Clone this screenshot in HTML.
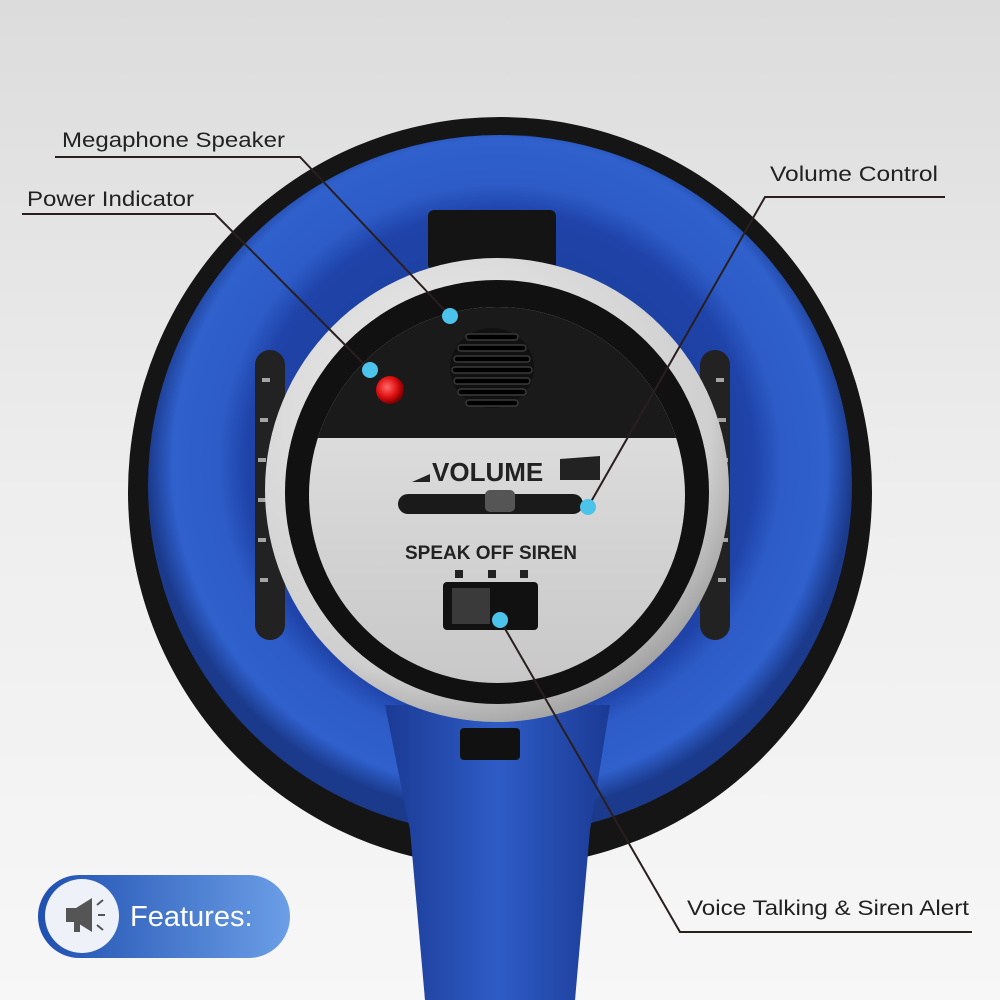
<!DOCTYPE html>
<html><head><meta charset="utf-8"><style>
html,body{margin:0;padding:0;width:1000px;height:1000px;overflow:hidden}
svg{display:block}
text{font-family:"Liberation Sans",sans-serif}
</style></head><body>
<svg width="1000" height="1000" viewBox="0 0 1000 1000" xmlns="http://www.w3.org/2000/svg">
<defs>
<linearGradient id="bg" x1="0" y1="0" x2="0" y2="1"><stop offset="0" stop-color="#dcdcdc"/><stop offset="0.5" stop-color="#eeeeee"/><stop offset="1" stop-color="#f7f7f7"/></linearGradient>
<radialGradient id="blue" cx="0.5" cy="0.47" r="0.5"><stop offset="0" stop-color="#1a3690"/><stop offset="0.72" stop-color="#1f43a8"/><stop offset="0.8" stop-color="#2d5cc8"/><stop offset="0.93" stop-color="#2f60cc"/><stop offset="1" stop-color="#1b3a8c"/></radialGradient>
<linearGradient id="handle" x1="0" y1="0" x2="1" y2="0"><stop offset="0" stop-color="#1b3a94"/><stop offset="0.5" stop-color="#2e5cc6"/><stop offset="1" stop-color="#1b3a94"/></linearGradient>
<radialGradient id="gray" cx="0.4" cy="0.35" r="0.7"><stop offset="0" stop-color="#f2f2f2"/><stop offset="0.8" stop-color="#cfcfcf"/><stop offset="1" stop-color="#9a9a9a"/></radialGradient>
<linearGradient id="face" x1="0" y1="0" x2="0" y2="1"><stop offset="0" stop-color="#e6e6e6"/><stop offset="1" stop-color="#c8c8c8"/></linearGradient>
<linearGradient id="pill" x1="0" y1="0" x2="1" y2="0"><stop offset="0" stop-color="#1f4fb0"/><stop offset="1" stop-color="#6b9ee6"/></linearGradient>
<radialGradient id="led" cx="0.4" cy="0.4" r="0.6"><stop offset="0" stop-color="#ff6a6a"/><stop offset="0.6" stop-color="#e01010"/><stop offset="1" stop-color="#7a0000"/></radialGradient>
<clipPath id="fc"><circle cx="497" cy="495" r="188"/></clipPath>
</defs>
<rect width="1000" height="1000" fill="url(#bg)"/>
<path d="M380 700 L612 700 L580 850 L575 1000 L425 1000 L420 850 Z" fill="url(#handle)"/>
<ellipse cx="500" cy="492" rx="372" ry="375" fill="#151515"/>
<ellipse cx="500" cy="485" rx="352" ry="350" fill="url(#blue)"/>
<path d="M385 705 L610 705 L590 830 L575 1000 L425 1000 L410 830 Z" fill="url(#handle)"/>
<rect x="460" y="728" width="60" height="32" rx="4" fill="#111"/>
<rect x="255" y="350" width="30" height="290" rx="15" fill="#222"/>
<rect x="700" y="350" width="30" height="290" rx="15" fill="#222"/>
<g stroke="#ddd" stroke-width="4" opacity="0.7">
<line x1="262" y1="380" x2="270" y2="380"/><line x1="260" y1="420" x2="268" y2="420"/><line x1="258" y1="460" x2="266" y2="460"/><line x1="258" y1="500" x2="266" y2="500"/><line x1="258" y1="540" x2="266" y2="540"/><line x1="260" y1="580" x2="268" y2="580"/>
<line x1="716" y1="380" x2="724" y2="380"/><line x1="718" y1="420" x2="726" y2="420"/><line x1="720" y1="460" x2="728" y2="460"/><line x1="720" y1="500" x2="728" y2="500"/><line x1="720" y1="540" x2="728" y2="540"/><line x1="718" y1="580" x2="726" y2="580"/>
</g>
<rect x="428" y="210" width="128" height="60" rx="6" fill="#141414"/>
<circle cx="497" cy="490" r="232" fill="url(#gray)"/>
<circle cx="497" cy="492" r="212" fill="#111"/>
<circle cx="497" cy="495" r="188" fill="url(#face)"/>
<g clip-path="url(#fc)">
<rect x="300" y="290" width="400" height="148" fill="#1a1a1a"/>
</g>
<ellipse cx="492" cy="368" rx="42" ry="40" fill="#111"/>
<g fill="#000" stroke="#3a3a3a" stroke-width="1.5">
<rect x="466" y="334" width="52" height="6" rx="3"/>
<rect x="458" y="345" width="68" height="6" rx="3"/>
<rect x="454" y="356" width="76" height="6" rx="3"/>
<rect x="452" y="367" width="80" height="6" rx="3"/>
<rect x="454" y="378" width="76" height="6" rx="3"/>
<rect x="458" y="389" width="68" height="6" rx="3"/>
<rect x="466" y="400" width="52" height="6" rx="3"/>
</g>
<circle cx="390" cy="390" r="14" fill="url(#led)"/>
<polygon points="412,482 430,474 430,482" fill="#222"/>
<text x="432" y="481" font-size="26" font-weight="bold" fill="#222">VOLUME</text>
<polygon points="560,459 600,456 600,480 560,480" fill="#222"/>
<rect x="398" y="494" width="185" height="20" rx="10" fill="#1a1a1a"/>
<rect x="485" y="490" width="30" height="22" rx="5" fill="#555"/>
<text x="405" y="559" font-size="19" font-weight="bold" fill="#222" textLength="172">SPEAK OFF SIREN</text>
<rect x="455" y="570" width="8" height="8" fill="#222"/><rect x="488" y="570" width="8" height="8" fill="#222"/><rect x="520" y="570" width="8" height="8" fill="#222"/>
<rect x="443" y="582" width="95" height="48" rx="4" fill="#111"/>
<rect x="452" y="588" width="38" height="36" fill="#3a3a3a"/>
<g stroke="#2a1f1f" stroke-width="2" fill="none">
<polyline points="55,157 300,157 450,316"/>
<polyline points="22,214 215,214 370,370"/>
<polyline points="945,197 765,197 588,507"/>
<polyline points="972,932 680,932 500,620"/>
</g>
<g fill="#4cc3ea">
<circle cx="450" cy="316" r="8"/><circle cx="370" cy="370" r="8"/><circle cx="588" cy="507" r="8"/><circle cx="500" cy="620" r="8"/>
</g>
<g font-size="21" fill="#222">
<text x="62" y="147" textLength="223" lengthAdjust="spacingAndGlyphs">Megaphone Speaker</text>
<text x="27" y="206" textLength="167" lengthAdjust="spacingAndGlyphs">Power Indicator</text>
<text x="770" y="181" textLength="168" lengthAdjust="spacingAndGlyphs">Volume Control</text>
<text x="687" y="915" textLength="282" lengthAdjust="spacingAndGlyphs">Voice Talking &amp; Siren Alert</text>
</g>
<rect x="38" y="875" width="252" height="83" rx="41.5" fill="url(#pill)"/>
<circle cx="82" cy="916" r="37" fill="#eef2f8"/>
<g fill="#555">
<polygon points="66,908 76,908 92,898 92,932 76,922 66,922"/>
<rect x="74" y="922" width="6" height="10"/>
</g>
<g stroke="#555" stroke-width="2"><line x1="97" y1="905" x2="103" y2="900"/><line x1="98" y1="915" x2="105" y2="915"/><line x1="97" y1="925" x2="103" y2="930"/></g>
<text x="130" y="926" font-size="29" fill="#fff">Features:</text>
</svg>
</body></html>
